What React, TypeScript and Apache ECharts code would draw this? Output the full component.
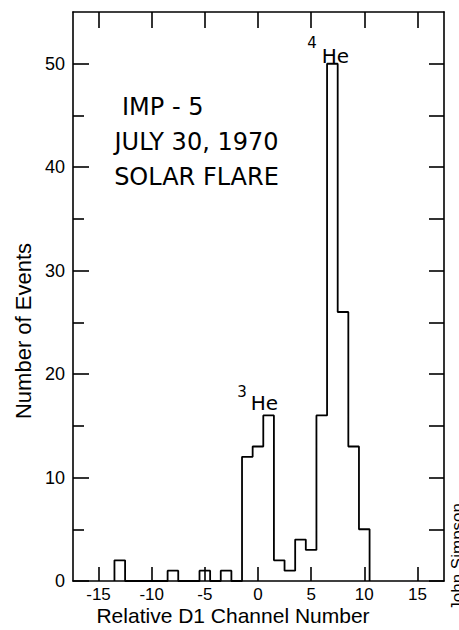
import React, { useEffect, useRef } from "react";
import * as echarts from "echarts";

// ---- data ----
const channels = [-13, -12, -11, -10, -9, -8, -7, -6, -5, -4, -3, -2, -1, 0, 1, 2, 3, 4, 5, 6, 7, 8, 9, 10];
const counts = [2, 0, 0, 0, 0, 1, 0, 0, 1, 0, 1, 0, 12, 13, 16, 2, 1, 4, 3, 16, 50, 26, 13, 5];
const xTicks = [-15, -10, -5, 0, 5, 10, 15];
const yMajorTicks = [0, 10, 20, 30, 40, 50];
const yMinorTicks = [5, 15, 25, 35, 45];
const annotationLines = ["IMP - 5", "JULY 30, 1970", "SOLAR FLARE"];
const xTitle = "Relative D1 Channel Number";
const yTitle = "Number of Events";
const credit = "John Simpson";

const X_MIN = -17.4;
const X_MAX = 17.5;
const Y_MIN = 0;
const Y_MAX = 55;

function stepPoints(): number[][] {
  const pts: number[][] = [];
  pts.push([channels[0] - 0.5, 0]);
  channels.forEach((c, i) => {
    pts.push([c - 0.5, counts[i]]);
    pts.push([c + 0.5, counts[i]]);
  });
  pts.push([channels[channels.length - 1] + 0.5, 0]);
  return pts;
}

const AXIS_FONT = '"Liberation Sans", Arial, sans-serif';
const ANN_FONT = '"DejaVu Sans", sans-serif';

export default function App() {
  const ref = useRef<HTMLDivElement>(null);

  useEffect(() => {
    document.body.style.margin = "0";
    if (!ref.current) return;
    const chart = echarts.init(ref.current, undefined, { renderer: "svg" });
    const lineStyle = { color: "#000", width: 1.6 };

    const option: any = {
      animation: false,
      backgroundColor: "#fff",
      grid: { left: 73, right: 15, top: 12, bottom: 49, containLabel: false },
      xAxis: [
        {
          type: "value",
          position: "bottom",
          min: X_MIN,
          max: X_MAX,
          axisLine: { show: true, onZero: false, lineStyle },
          axisTick: { show: true, inside: true, length: 14, customValues: xTicks, lineStyle },
          axisLabel: {
            show: true,
            customValues: xTicks,
            color: "#000",
            fontSize: 17,
            fontFamily: AXIS_FONT,
            margin: 5,
          },
          splitLine: { show: false },
        },
        {
          type: "value",
          position: "top",
          min: X_MIN,
          max: X_MAX,
          axisLine: { show: true, onZero: false, lineStyle },
          axisTick: { show: true, inside: true, length: 16, customValues: xTicks, lineStyle },
          axisLabel: { show: false },
          splitLine: { show: false },
        },
      ],
      yAxis: [
        {
          type: "value",
          position: "left",
          min: Y_MIN,
          max: Y_MAX,
          axisLine: { show: true, onZero: false, lineStyle },
          axisTick: { show: true, inside: true, length: 16, customValues: yMajorTicks, lineStyle },
          axisLabel: {
            show: true,
            customValues: yMajorTicks,
            color: "#000",
            fontSize: 18,
            fontFamily: AXIS_FONT,
            margin: 8,
          },
          splitLine: { show: false },
        },
        {
          type: "value",
          position: "left",
          min: Y_MIN,
          max: Y_MAX,
          axisLine: { show: false, onZero: false },
          axisTick: { show: true, inside: true, length: 11, customValues: yMinorTicks, lineStyle },
          axisLabel: { show: false },
          splitLine: { show: false },
        },
        {
          type: "value",
          position: "right",
          min: Y_MIN,
          max: Y_MAX,
          axisLine: { show: true, onZero: false, lineStyle },
          axisTick: {
            show: true,
            inside: true,
            length: 15,
            customValues: [...yMajorTicks, ...yMinorTicks],
            lineStyle,
          },
          axisLabel: { show: false },
          splitLine: { show: false },
        },
      ],
      series: [
        {
          type: "line",
          xAxisIndex: 0,
          yAxisIndex: 0,
          data: stepPoints(),
          showSymbol: false,
          symbol: "none",
          lineStyle: { color: "#000", width: 1.8 },
          z: 5,
        },
      ],
      graphic: [
        {
          type: "text",
          x: 122,
          y: 106.5,
          style: { text: annotationLines[0], font: `24px ${ANN_FONT}`, fill: "#000", align: "left", verticalAlign: "middle" },
        },
        {
          type: "text",
          x: 196.5,
          y: 141.5,
          style: { text: annotationLines[1], font: `24px ${ANN_FONT}`, fill: "#000", align: "center", verticalAlign: "middle" },
        },
        {
          type: "text",
          x: 196.5,
          y: 176.5,
          style: { text: annotationLines[2], font: `24px ${ANN_FONT}`, fill: "#000", align: "center", verticalAlign: "middle" },
        },
        {
          type: "text",
          x: 312,
          y: 43,
          style: { text: "4", font: `15px ${ANN_FONT}`, fill: "#000", align: "center", verticalAlign: "middle" },
        },
        {
          type: "text",
          x: 335.5,
          y: 56,
          style: { text: "He", font: `20px ${ANN_FONT}`, fill: "#000", align: "center", verticalAlign: "middle" },
        },
        {
          type: "text",
          x: 242,
          y: 391.5,
          style: { text: "3", font: `15px ${ANN_FONT}`, fill: "#000", align: "center", verticalAlign: "middle" },
        },
        {
          type: "text",
          x: 264.5,
          y: 403,
          style: { text: "He", font: `20px ${ANN_FONT}`, fill: "#000", align: "center", verticalAlign: "middle" },
        },
        {
          type: "text",
          x: 233,
          y: 615,
          style: { text: xTitle, font: `21px ${AXIS_FONT}`, fill: "#000", align: "center", verticalAlign: "middle" },
        },
        {
          type: "text",
          x: 23,
          y: 331,
          rotation: Math.PI / 2,
          style: { text: yTitle, font: `22px ${AXIS_FONT}`, fill: "#000", align: "center", verticalAlign: "middle" },
        },
        {
          type: "text",
          x: 449,
          y: 503,
          rotation: Math.PI / 2,
          style: { text: credit, font: `17px ${AXIS_FONT}`, fill: "#000", align: "right", verticalAlign: "top" },
        },
      ],
    };

    chart.setOption(option);
    return () => chart.dispose();
  }, []);

  return <div ref={ref} style={{ width: 459, height: 630 }} />;
}
